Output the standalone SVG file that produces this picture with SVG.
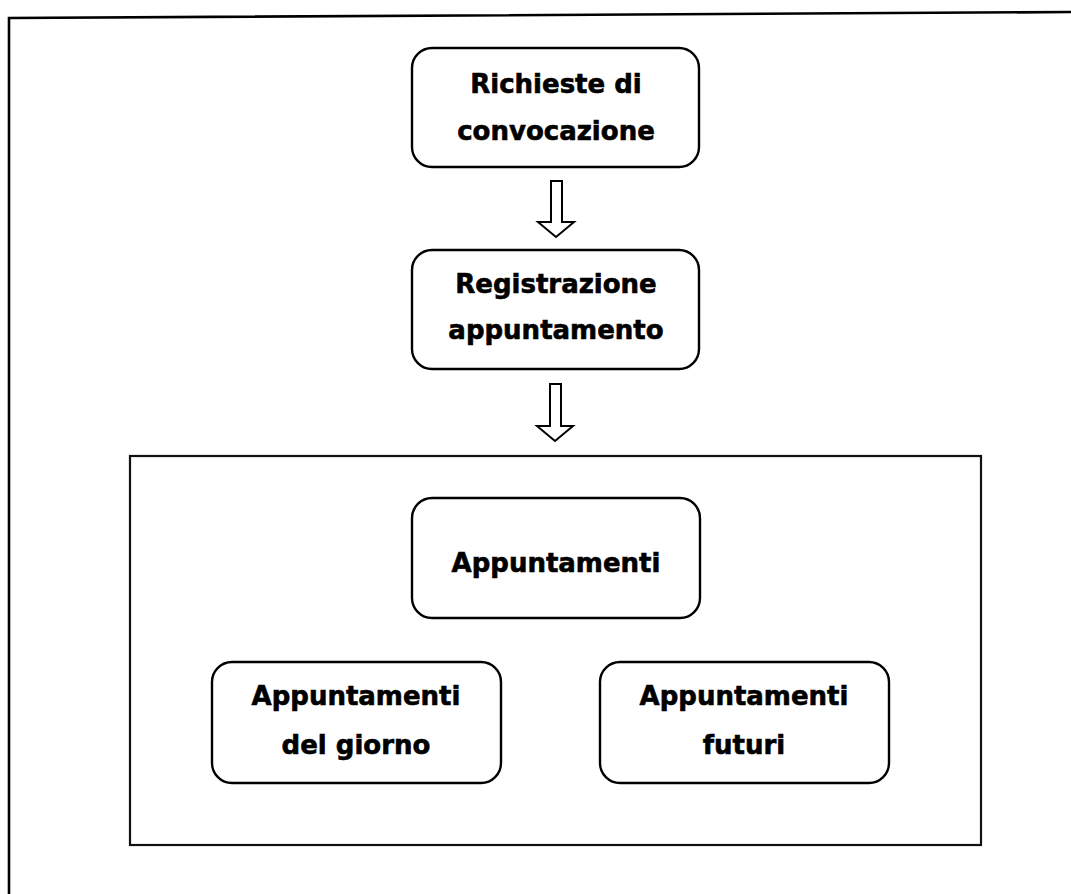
<svg xmlns="http://www.w3.org/2000/svg" width="1071" height="894" viewBox="0 0 1071 894">
<style>
.node rect{fill:#fff;stroke:#000;stroke-width:2.4}
.node text{font-family:"DejaVu Sans",Verdana,sans-serif;font-weight:bold;font-size:26px;fill:#000;stroke:#000;stroke-width:0.6;text-anchor:middle}
.arrow{fill:#fff;stroke:#000;stroke-width:2;stroke-linejoin:miter}
</style>
<rect width="1071" height="894" fill="#fff"/>
<g id="frame">
<path d="M9,900 L9,18 L1075,12" fill="none" stroke="#000" stroke-width="2.6"/>
</g>
<g id="container">
<rect x="130" y="456" width="851" height="389" fill="none" stroke="#111" stroke-width="2.2"/>
</g>
<g id="connectors">
<path class="arrow" d="M551,181 L562,181 L562,222 L574,222 L556,237 L538,222 L551,222 Z"/>
<path class="arrow" d="M550,384 L561,384 L561,426 L573,426 L555,441 L537,426 L550,426 Z"/>
</g>
<g id="n1" class="node">
<rect x="412" y="48" width="287" height="119" rx="20" ry="20"/>
<text x="556" y="93">Richieste di</text>
<text x="556" y="140">convocazione</text>
</g>
<g id="n2" class="node">
<rect x="412" y="250" width="287" height="119" rx="20" ry="20"/>
<text x="556" y="293">Registrazione</text>
<text x="556" y="339">appuntamento</text>
</g>
<g id="n3" class="node">
<rect x="412" y="498" width="288" height="120" rx="20" ry="20"/>
<text x="556" y="572">Appuntamenti</text>
</g>
<g id="n4" class="node">
<rect x="212" y="662" width="289" height="121" rx="20" ry="20"/>
<text x="356" y="705">Appuntamenti</text>
<text x="356" y="754">del giorno</text>
</g>
<g id="n5" class="node">
<rect x="600" y="662" width="289" height="121" rx="20" ry="20"/>
<text x="744" y="705">Appuntamenti</text>
<text x="744" y="754">futuri</text>
</g>
</svg>
